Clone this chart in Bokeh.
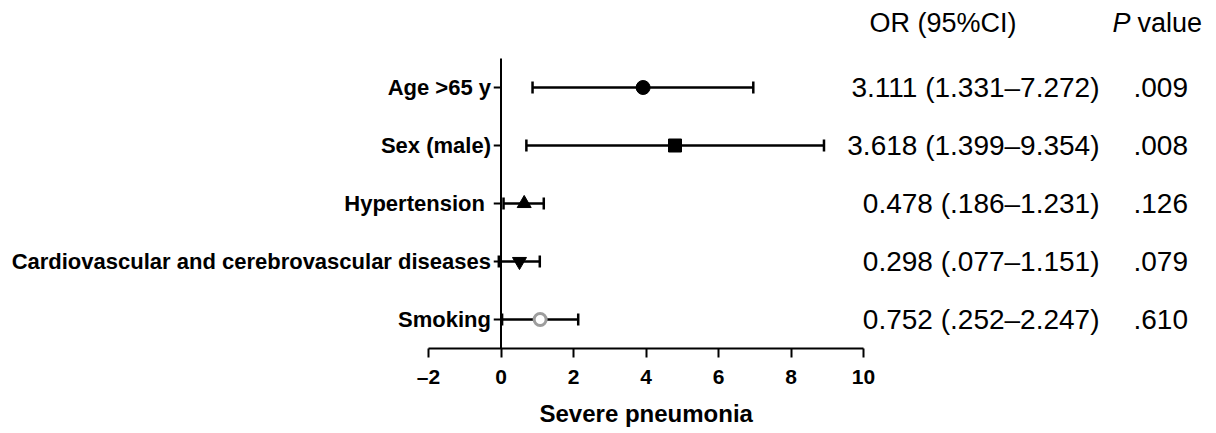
from bokeh.plotting import figure
from bokeh.models import (Range1d, FixedTicker, Whisker, TeeHead,
                          ColumnDataSource, Title)
from bokeh.core.properties import value
from bokeh.embed import file_html
from bokeh.resources import INLINE

# ---- data ----
factors = ["Age >65 y", "Sex (male)", "Hypertension ",
           "Cardiovascular and cerebrovascular diseases", "Smoking"]
point = [3.92, 4.80, 0.64, 0.51, 1.08]
lower = [0.87, 0.70, 0.07, -0.06, 0.03]
upper = [6.96, 8.91, 1.18, 1.07, 2.13]
or_text = ["3.111 (1.331\u20137.272)", "3.618 (1.399\u20139.354)",
           "0.478 (.186\u20131.231)", "0.298 (.077\u20131.151)",
           "0.752 (.252\u20132.247)"]
p_text = [".009", ".008", ".126", ".079", ".610"]
x_ticks = [-2, 0, 2, 4, 6, 8, 10]
x_title = "Severe pneumonia"
head_or = "OR (95%CI)"

# ---- styles ----
markers = ["circle", "square", "triangle", "inverted_triangle", "circle"]
sizes = [14, 13, 14, 14, 12]
fills = ["black", "black", "black", "black", "white"]
lines = ["black", "black", "black", "black", "#9d9d9d"]
lwidths = [1, 1, 1, 1, 3]

n = len(factors)
rows = list(range(n, 0, -1))
src = ColumnDataSource(dict(y=rows, point=point, lower=lower, upper=upper,
                            factor=factors, ort=or_text, pt=p_text,
                            marker=markers, size=sizes, fill=fills,
                            line=lines, lw=lwidths))

W, H = 1216, 433
unit = 36.25
x0px = 500.5
p = figure(width=W, height=H, output_backend="svg", toolbar_location=None,
           x_range=Range1d(-x0px / unit, (W - x0px) / unit),
           y_range=Range1d(0.5, 6.5),
           min_border_left=0, min_border_right=0, min_border_top=0,
           min_border_bottom=85, y_axis_location=None)
p.outline_line_color = None
p.xgrid.visible = False
p.ygrid.visible = False
p.background_fill_color = "white"
p.border_fill_color = "white"

FONT = value("Liberation Sans")

# x axis
ax = p.xaxis[0]
ax.bounds = (x_ticks[0], x_ticks[-1])
ax.ticker = FixedTicker(ticks=x_ticks)
ax.major_label_overrides = {-2: "\u20132"}
ax.minor_tick_line_color = None
ax.major_tick_in = 0
ax.major_tick_out = 9
ax.axis_line_width = 2
ax.major_tick_line_width = 2
ax.major_label_text_font = "Liberation Sans"
ax.major_label_text_font_style = "bold"
ax.major_label_text_font_size = "21px"
ax.major_label_text_color = "black"
ax.major_label_standoff = 7

# axis title, centred on the drawn axis span (not on the whole frame)
axis_mid_px = x0px + unit * (x_ticks[0] + x_ticks[-1]) / 2
title_w = 213
p.add_layout(Title(text=x_title, align="left",
                   offset=axis_mid_px - title_w / 2,
                   text_font="Liberation Sans", text_font_style="bold",
                   text_font_size="24px", text_color="black",
                   standoff=14), "below")

# manual y axis at x = 0
p.segment(x0=[0], y0=[min(rows) - 0.5], x1=[0], y1=[max(rows) + 0.5],
          line_color="black", line_width=2)
p.segment(x0=-0.2, y0="y", x1=0, y1="y", source=src,
          line_color="black", line_width=2)
p.text(x=0, y="y", text="factor", source=src, x_offset=-10,
       text_align="right", text_baseline="middle", text_font=FONT,
       text_font_style="bold", text_font_size="22px", text_color="black")

# error bars
wh = Whisker(base="y", lower="lower", upper="upper", dimension="width",
             source=src, line_width=2.5, line_color="black",
             lower_head=TeeHead(size=12, line_width=2.5, line_color="black"),
             upper_head=TeeHead(size=12, line_width=2.5, line_color="black"))
p.add_layout(wh)

p.scatter(x="point", y="y", marker="marker", size="size", source=src,
          fill_color="fill", line_color="line", line_width="lw")

# right-hand columns
or_x = (1099 - x0px) / unit
pv_x = (1133 - x0px) / unit
p.text(x=or_x, y="y", text="ort", source=src, text_align="right",
       text_baseline="middle", text_font=FONT, text_font_size="28px",
       text_color="black")
p.text(x=pv_x, y="y", text="pt", source=src, text_align="left",
       text_baseline="middle", text_font=FONT, text_font_size="28px",
       text_color="black")

head_y = max(rows) + 1.12
p.text(x=[(869 - x0px) / unit], y=[head_y], text=[head_or], text_align="left",
       text_baseline="middle", text_font=FONT, text_font_size="27px",
       text_color="black")
p.text(x=[(1112 - x0px) / unit], y=[head_y], text=["P"], text_align="left",
       text_baseline="middle", text_font=FONT, text_font_size="27px",
       text_font_style="italic", text_color="black")
p.text(x=[(1112 - x0px) / unit], y=[head_y], text=["value"], x_offset=25,
       text_align="left", text_baseline="middle", text_font=FONT,
       text_font_size="27px", text_color="black")

open("out.html", "w").write(file_html(p, INLINE))
